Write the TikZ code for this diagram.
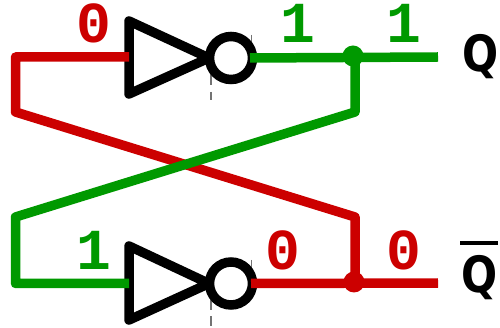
\documentclass[tikz,border=0pt]{standalone}
\usepackage{graphicx}
\usepackage{fontspec}
\setmainfont{Liberation Sans}
\setmonofont{Liberation Mono}
\newfontfamily\labfont{DejaVu Sans}
\definecolor{wred}{HTML}{CC0000}
\definecolor{wgreen}{HTML}{009900}
\tikzset{
  wire/.style={line width=9.5pt,line join=round},
  redwire/.style={wire,draw=wred},
  greenwire/.style={wire,draw=wgreen},
  gate/.style={line width=9.5pt,line join=round,draw=black,fill=white},
  bubble/.style={circle,draw=black,line width=9.5pt,fill=white,minimum size=43pt,inner sep=0pt,outer sep=0pt},
  junction/.style={circle,inner sep=0pt,minimum size=21pt},
  bit/.style={font=\ttfamily\bfseries\fontsize{58}{58}\selectfont,inner sep=0pt,anchor=base},
  lab/.style={font=\labfont\bfseries\fontsize{50}{50}\selectfont,inner sep=0pt,anchor=base},
  tick/.style={draw=black!55,line width=1.2pt}
}
\begin{document}
\begin{tikzpicture}[x=1pt,y=-1pt]
\useasboundingbox[fill=white] (0,0) rectangle (500,328);
% ticks
\draw[tick] (211,73) -- (211,85);
\draw[tick] (211,92) -- (211,100);
\draw[tick] (251.5,35) -- (251.5,43);
\draw[tick] (211,298) -- (211,310);
\draw[tick] (211,316) -- (211,326);
\draw[tick] (251.5,260) -- (251.5,268);
% named points
\coordinate (tin) at (129,57);
\coordinate (bin) at (129,283.5);
\coordinate (tout) at (438,57);
\coordinate (bout) at (438,283);
\coordinate (ta) at (15.5,57);
\coordinate (tb) at (15.5,112);
\coordinate (tc) at (355,112);
\coordinate (ba) at (15.5,283.5);
\coordinate (bb) at (15.5,217);
\coordinate (bc) at (355,217);
\node[bubble] (b1) at (231,58) {};
\node[bubble] (b2) at (231,283.5) {};
% gates
\draw[gate] (129,21) -- (209,58) -- (129,94) -- cycle;
\draw[gate] (129,246) -- (209,283.5) -- (129,320) -- cycle;
% wires
\draw[redwire] (tin) -- (ta) -- (tb) -- (bc) -- (355,283);
\draw[greenwire] (355,57) -- (tc) -- (bb) -- (ba) -- (bin);
\draw[greenwire] ([xshift=-2.5pt]b1.east) -- (tout);
\draw[redwire] ([xshift=-1.5pt]b2.east) -- (bout);
\node[junction,fill=wgreen] (j1) at (353,56) {};
\node[junction,fill=wred] (j2) at (354,282) {};
\node[bit,text=wred] (t0) at (93.5,43) {0};
\node[bit,text=wgreen] (t1) at (297.5,43) {1};
\node[bit,text=wgreen] (t2) at (403.5,43) {1};
\node[bit,text=wgreen] (t3) at (93.5,270) {1};
\node[bit,text=wred] (t4) at (282.5,270) {0};
\node[bit,text=wred] (t5) at (403.5,270) {0};
\node[lab] (q) at (480.5,72) {\scalebox{.85}[1]{Q}};
\node[lab] (qb) at (479.5,292) {\scalebox{.85}[1]{Q}};
\draw[line width=4pt] (460,243) -- (498,243);
\end{tikzpicture}
\end{document}
